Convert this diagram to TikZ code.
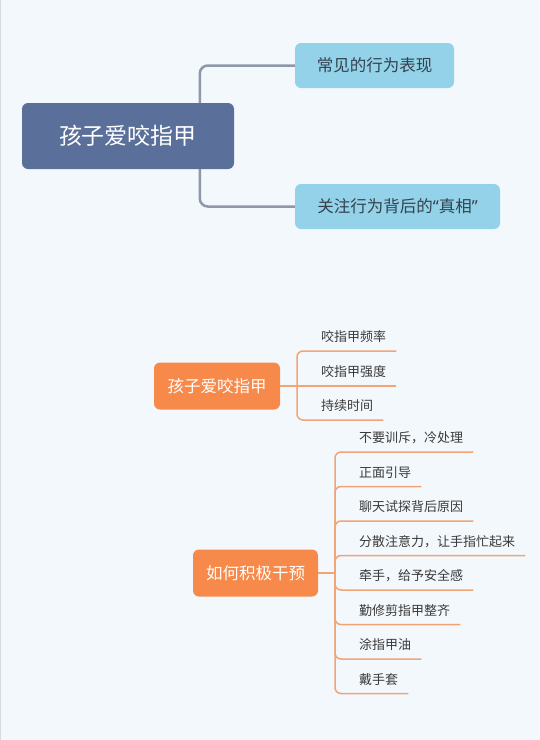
\documentclass[tikz,border=0pt]{standalone}
\usepackage{fontspec}
\setmainfont{Noto Sans CJK SC}
\newfontfamily\qf{Noto Sans}
\usetikzlibrary{calc,backgrounds}
\definecolor{bgc}{HTML}{F3F8FC}
\definecolor{mainc}{HTML}{5A6F99}
\definecolor{childc}{HTML}{93D2E8}
\definecolor{childt}{HTML}{34424E}
\definecolor{grayl}{HTML}{8E98A9}
\definecolor{orangec}{HTML}{F7894A}
\definecolor{orangel}{HTML}{F2A474}
\definecolor{leaft}{HTML}{3A3A3A}
\definecolor{edgec}{HTML}{D5DBE1}
\tikzset{
  rootbox/.style={fill=mainc, rounded corners=6pt, text=white, font=\fontsize{23}{27}\selectfont, minimum width=212pt, minimum height=66pt, inner sep=0pt},
  childbox/.style={fill=childc, rounded corners=6pt, text=childt, font=\fontsize{16.5}{20}\selectfont, minimum height=45pt, inner sep=0pt},
  obox/.style={fill=orangec, rounded corners=6pt, text=white, font=\fontsize{16.5}{20}\selectfont, minimum width=126pt, minimum height=47pt, inner sep=0pt},
  leaf/.style={anchor=south west, inner xsep=0pt, inner ysep=0pt, text depth=9pt, text=leaft, font=\fontsize{13}{16}\selectfont},
  gline/.style={draw=grayl, line width=2.5pt, rounded corners=8pt},
  oline/.style={draw=orangel, line width=1.5pt, rounded corners=6pt},
}
\newcommand{\lf}[1]{\hspace*{24pt}#1\hspace*{10pt}}
\begin{document}
\begin{tikzpicture}[x=1pt,y=-1pt]
\useasboundingbox (0,0) rectangle (540,740);

% top part
\node[rootbox] (root) at (128,136) {孩子爱咬指甲};
\node[childbox, minimum width=159pt] (c1) at (374.5,65.5) {常见的行为表现};
\node[childbox, minimum width=205pt] (c2) at (397.5,206.5) {关注行为背后的{\qf “}真相{\qf ”}};
\path ([xshift=178pt]root.north west) coordinate (rt);
\path ([xshift=178pt]root.south west) coordinate (rb);
\begin{scope}[on background layer]
\fill[bgc] (0,0) rectangle (540,740);
\draw[edgec, line width=1pt] (0.5,0) -- (0.5,740);
\draw[gline] (rt) |- (c1.west);
\draw[gline] (rb) |- (c2.west);
\end{scope}

% group 1
\node[obox] (o1) at (217,386) {孩子爱咬指甲};
\coordinate (j1) at (297,386);
\node[leaf] (a1) at (297,351) {\lf{咬指甲频率}};
\node[leaf] (a2) at (297,386) {\lf{咬指甲强度}};
\node[leaf] (a3) at (297,420) {\lf{持续时间}};
\draw[oline] (o1.east) -- (j1);
\draw[oline] (j1) |- (a1.south east);
\draw[oline] (j1) -- (a2.south east);
\draw[oline] (j1) |- (a3.south east);

% group 2
\node[obox, minimum width=125pt] (o2) at (255.5,573) {如何积极干预};
\coordinate (j2) at (335,573);
\node[leaf] (b1) at (335,452) {\lf{不要训斥，冷处理}};
\node[leaf] (b2) at (335,486.5) {\lf{正面引导}};
\node[leaf] (b3) at (335,521) {\lf{聊天试探背后原因}};
\node[leaf] (b4) at (335,555.5) {\lf{分散注意力，让手指忙起来}};
\node[leaf] (b5) at (335,590) {\lf{牵手，给予安全感}};
\node[leaf] (b6) at (335,624.5) {\lf{勤修剪指甲整齐}};
\node[leaf] (b7) at (335,659) {\lf{涂指甲油}};
\node[leaf] (b8) at (335,693.5) {\lf{戴手套}};
\draw[oline] (o2.east) -- (j2);
\foreach \n in {b1,b2,b3,b4,b5,b6,b7,b8}{
  \draw[oline] (j2) |- (\n.south east);
}
\end{tikzpicture}
\end{document}
